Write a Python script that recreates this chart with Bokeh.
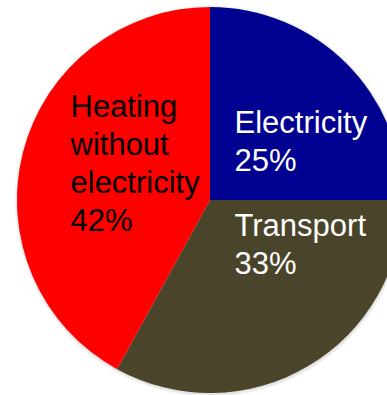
import math
from bokeh.plotting import figure
from bokeh.models import ColumnDataSource, Range1d
from bokeh.core.properties import value
from bokeh.embed import file_html
from bokeh.resources import INLINE

# ---- data ----
categories = ["Electricity", "Transport", "Heating\nwithout\nelectricity"]
shares = [25, 33, 42]
colors = ["#000091", "#4A452A", "#FF0000"]
text_colors = ["white", "white", "black"]

W, H = 387, 395
CX, CY, R = 209.5, H - 199.5, 193

p = figure(width=W, height=H, output_backend="svg", toolbar_location=None,
           x_range=Range1d(0, W), y_range=Range1d(0, H), min_border=0)
p.axis.visible = False
p.grid.visible = False
p.outline_line_color = None
p.background_fill_color = "white"

# soft shadow
for i, a in enumerate([0.10, 0.07, 0.04]):
    p.circle(x=[CX + 0.5], y=[CY - 1.0], radius=R + 1 + i, fill_color="#808080",
             fill_alpha=a, line_color=None)

total = float(sum(shares))
starts, ends = [], []
cum = 0.0
for v in shares:
    starts.append(math.pi / 2 - 2 * math.pi * cum / total)
    cum += v
    ends.append(math.pi / 2 - 2 * math.pi * cum / total)

src = ColumnDataSource(dict(start=starts, end=ends, color=colors))
p.wedge(x=CX, y=CY, radius=R, start_angle="start", end_angle="end",
        direction="clock", fill_color="color", line_color=None, source=src)

# labels (one row per text line), top of text given
anchor_px = [(234, 104), (234, 207.5), (70, 88.5)]
line_step = 38
tx, ty, tt, tc = [], [], [], []
for cat, v, col, (ax, ay) in zip(categories, shares, text_colors, anchor_px):
    lines = cat.split("\n") + ["%d%%" % v]
    for k, ln in enumerate(lines):
        tx.append(ax)
        ty.append(H - (ay + k * line_step))
        tt.append(ln)
        tc.append(col)

tsrc = ColumnDataSource(dict(x=tx, y=ty, text=tt, color=tc))
p.text(x="x", y="y", text="text", text_color="color", source=tsrc,
       text_font=value("Liberation Sans"), text_font_size="31px",
       text_align="left", text_baseline="top")

open("out.html", "w").write(file_html(p, INLINE))
